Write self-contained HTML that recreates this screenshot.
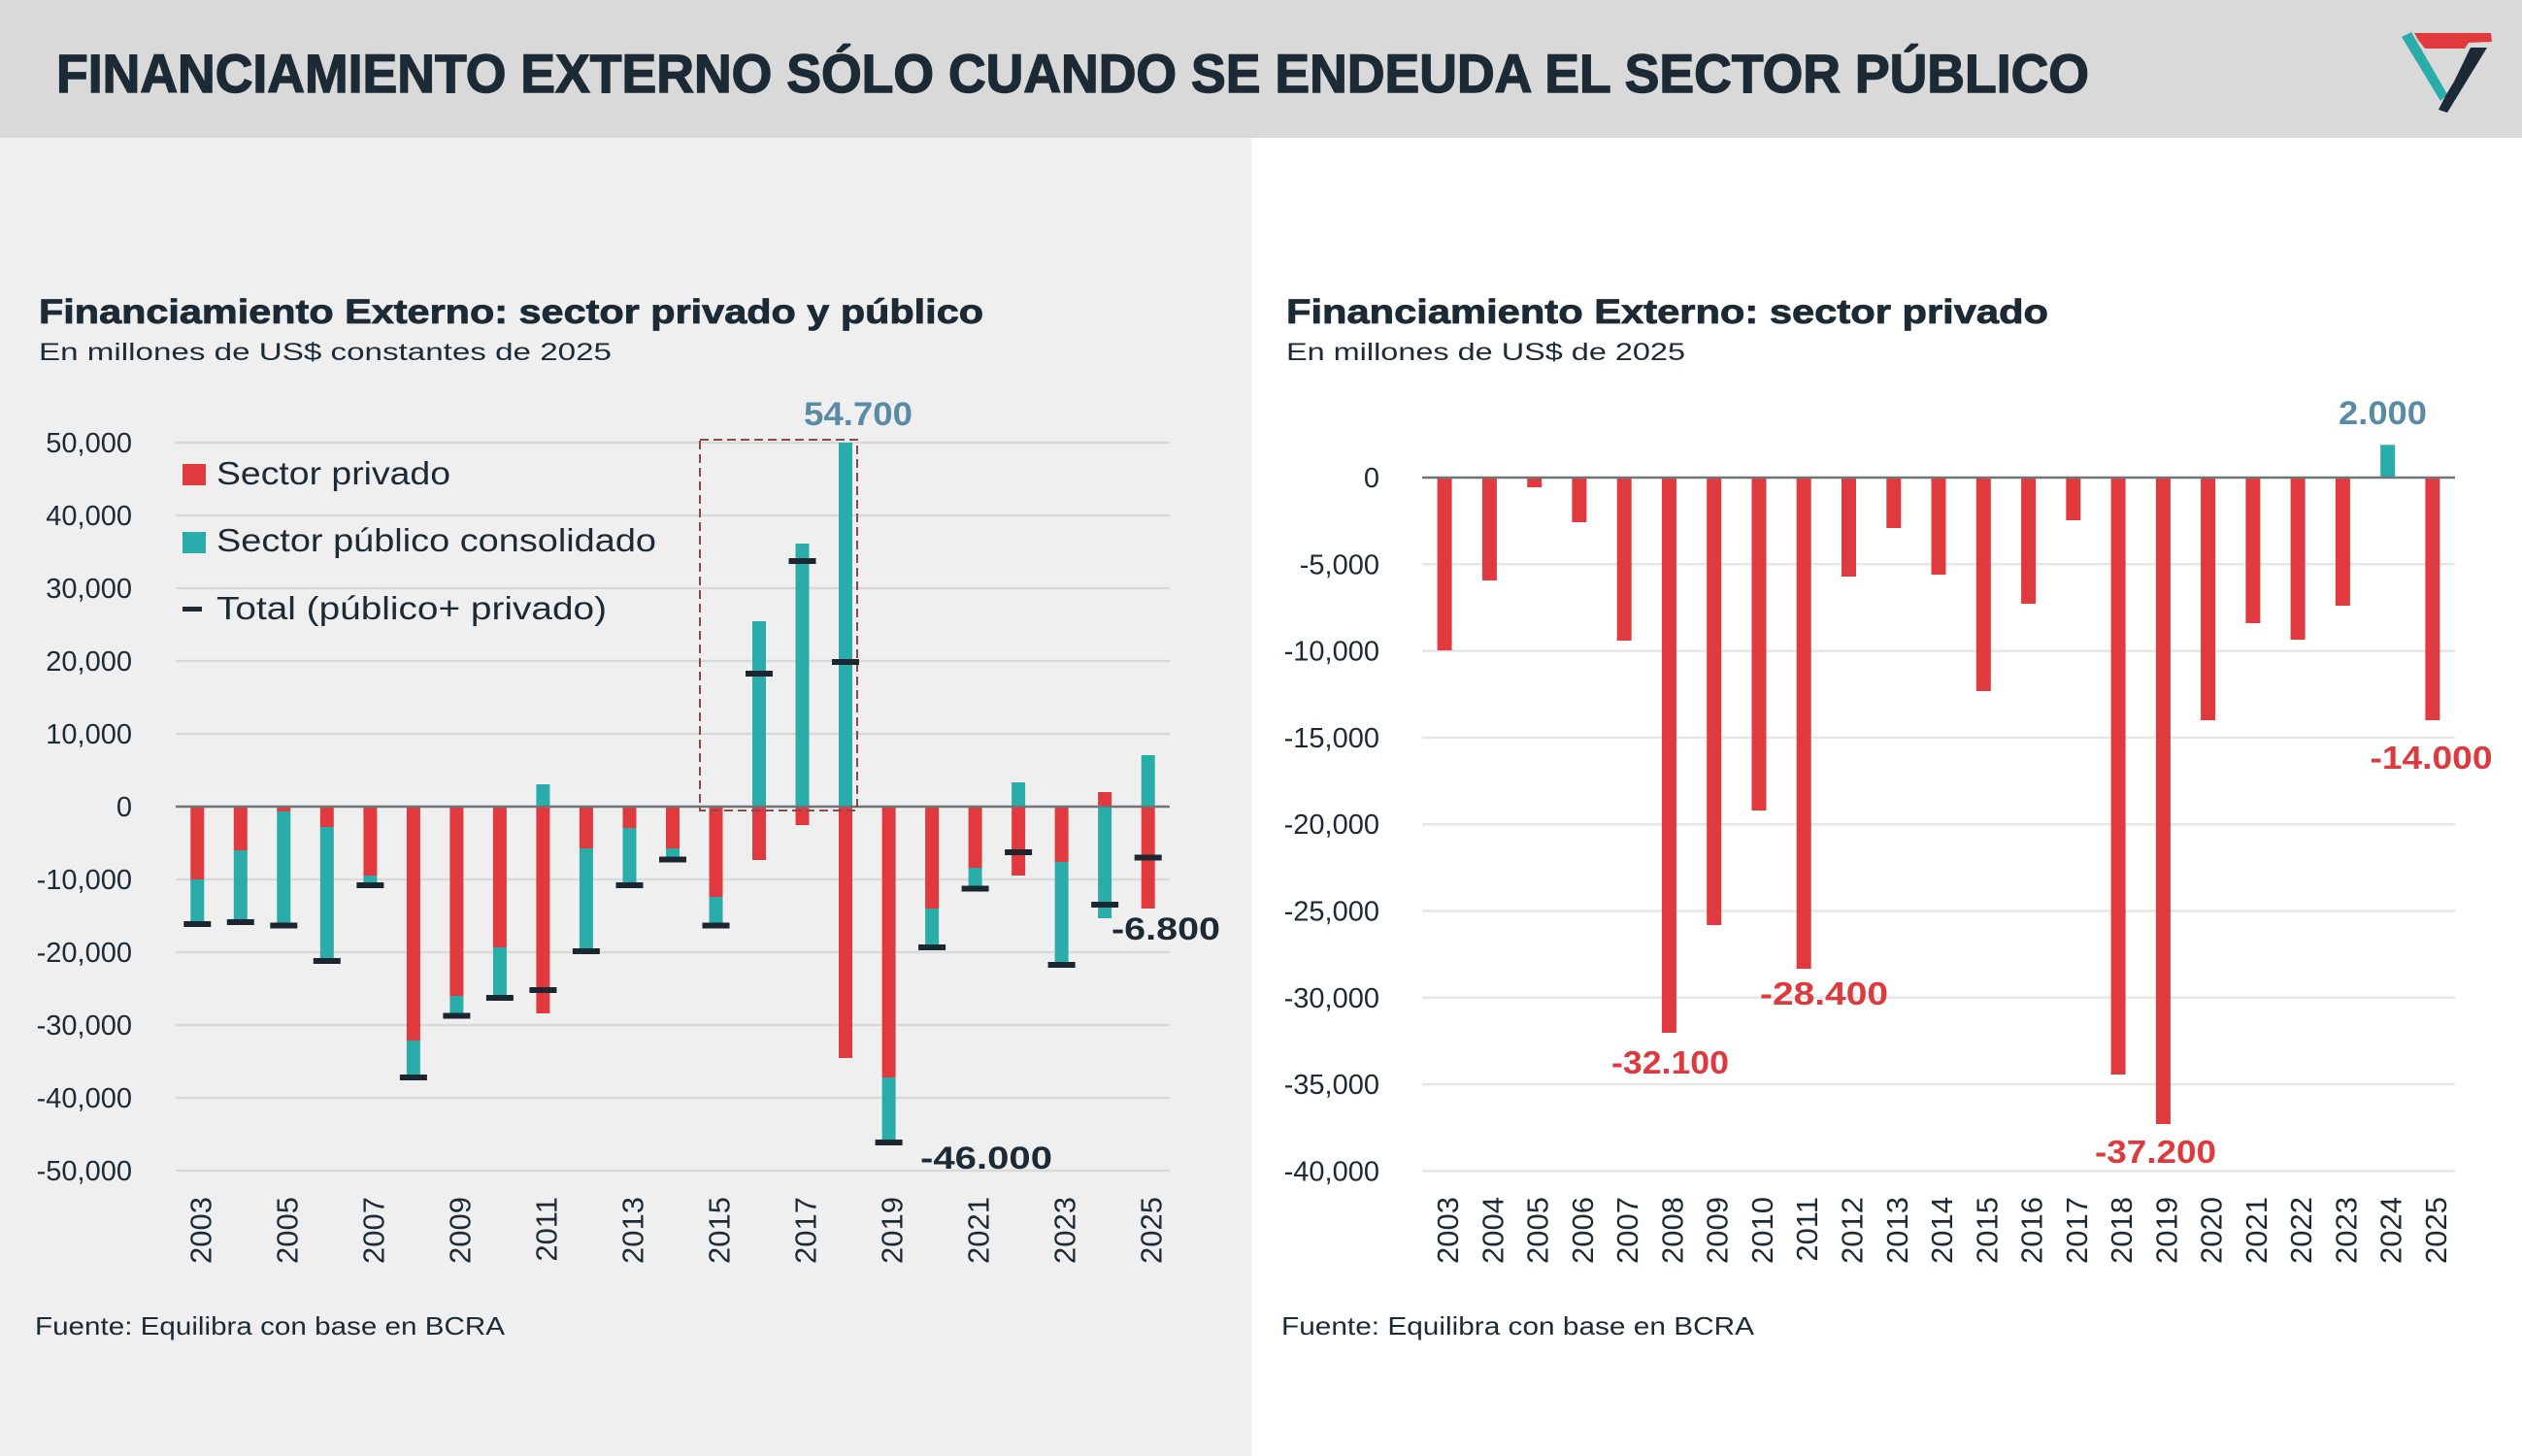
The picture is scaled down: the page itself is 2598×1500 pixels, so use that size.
<!DOCTYPE html>
<html><head><meta charset="utf-8"><style>
html,body{margin:0;padding:0;background:#fff;}
svg{display:block;}
text{font-family:"Liberation Sans",sans-serif;}
</style></head><body>
<svg width="2598" height="1500" viewBox="0 0 2598 1500" xmlns="http://www.w3.org/2000/svg">
<rect x="0" y="0" width="2598" height="1500" fill="#ffffff"/>
<rect x="0" y="142" width="1289" height="1358" fill="#efefef"/>
<rect x="0" y="0" width="2598" height="142" fill="#d9d9d9"/>
<text x="58" y="95" font-size="56" font-weight="bold" fill="#1c2a35" stroke="#1c2a35" stroke-width="1.4" textLength="2094" lengthAdjust="spacingAndGlyphs">FINANCIAMIENTO EXTERNO SÓLO CUANDO SE ENDEUDA EL SECTOR PÚBLICO</text>
<!-- logo -->
<polygon points="2474,38 2484,33 2521,97 2514,104" fill="#2aacaa"/>
<polygon points="2487,34 2566,34 2567,43 2543,44 2539,50 2498,50 2491,41" fill="#e03a3e"/>
<polygon points="2545,49 2562,49 2521,116 2512,113 2519,99 2528,84" fill="#1c2a35"/>

<!-- LEFT CHART -->
<text x="40" y="333" font-size="35" font-weight="bold" fill="#1c2a35" stroke="#1c2a35" stroke-width="0.8" textLength="973" lengthAdjust="spacingAndGlyphs">Financiamiento Externo: sector privado y público</text>
<text x="40" y="371" font-size="25" fill="#1c2a35" textLength="590" lengthAdjust="spacingAndGlyphs">En millones de US$ constantes de 2025</text>
<g stroke="#d9d9d9" stroke-width="2.5">
<line x1="181" y1="456" x2="1205" y2="456"/>
<line x1="181" y1="531" x2="1205" y2="531"/>
<line x1="181" y1="606" x2="1205" y2="606"/>
<line x1="181" y1="681" x2="1205" y2="681"/>
<line x1="181" y1="756" x2="1205" y2="756"/>
<line x1="181" y1="906" x2="1205" y2="906"/>
<line x1="181" y1="981" x2="1205" y2="981"/>
<line x1="181" y1="1056" x2="1205" y2="1056"/>
<line x1="181" y1="1131" x2="1205" y2="1131"/>
<line x1="181" y1="1206" x2="1205" y2="1206"/>
</g>
<g font-size="29" fill="#1c2a35" text-anchor="end">
<text x="136" y="466">50,000</text>
<text x="136" y="541">40,000</text>
<text x="136" y="616">30,000</text>
<text x="136" y="691">20,000</text>
<text x="136" y="766">10,000</text>
<text x="136" y="841">0</text>
<text x="136" y="916">-10,000</text>
<text x="136" y="991">-20,000</text>
<text x="136" y="1066">-30,000</text>
<text x="136" y="1141">-40,000</text>
<text x="136" y="1216">-50,000</text>
</g>
<!-- legend -->
<rect x="188" y="478" width="24" height="22" fill="#e03a3e"/>
<text x="223" y="499" font-size="33" fill="#1c2a35" textLength="241" lengthAdjust="spacingAndGlyphs">Sector privado</text>
<rect x="188" y="548" width="24" height="22" fill="#2aacaa"/>
<text x="223" y="568" font-size="33" fill="#1c2a35" textLength="453" lengthAdjust="spacingAndGlyphs">Sector público consolidado</text>
<rect x="188" y="625" width="20" height="5" fill="#1c2a35"/>
<text x="223" y="638" font-size="33" fill="#1c2a35" textLength="402" lengthAdjust="spacingAndGlyphs">Total (público+ privado)</text>

<!-- bars left -->
<g>
<rect x="196.3" y="831" width="14" height="75" fill="#e03a3e"/><rect x="196.3" y="906" width="14" height="44" fill="#2aacaa"/>
<rect x="240.8" y="831" width="14" height="45" fill="#e03a3e"/><rect x="240.8" y="876" width="14" height="72" fill="#2aacaa"/>
<rect x="285.3" y="831" width="14" height="5" fill="#e03a3e"/><rect x="285.3" y="836" width="14" height="115" fill="#2aacaa"/>
<rect x="329.8" y="831" width="14" height="21" fill="#e03a3e"/><rect x="329.8" y="852" width="14" height="136" fill="#2aacaa"/>
<rect x="374.4" y="831" width="14" height="71" fill="#e03a3e"/><rect x="374.4" y="902" width="14" height="8" fill="#2aacaa"/>
<rect x="418.9" y="831" width="14" height="241" fill="#e03a3e"/><rect x="418.9" y="1072" width="14" height="36" fill="#2aacaa"/>
<rect x="463.4" y="831" width="14" height="195" fill="#e03a3e"/><rect x="463.4" y="1026" width="14" height="19" fill="#2aacaa"/>
<rect x="507.9" y="831" width="14" height="145" fill="#e03a3e"/><rect x="507.9" y="976" width="14" height="51" fill="#2aacaa"/>
<rect x="552.4" y="808" width="14" height="23" fill="#2aacaa"/><rect x="552.4" y="831" width="14" height="213" fill="#e03a3e"/>
<rect x="596.9" y="831" width="14" height="43" fill="#e03a3e"/><rect x="596.9" y="874" width="14" height="104" fill="#2aacaa"/>
<rect x="641.5" y="831" width="14" height="22" fill="#e03a3e"/><rect x="641.5" y="853" width="14" height="57" fill="#2aacaa"/>
<rect x="686" y="831" width="14" height="43" fill="#e03a3e"/><rect x="686" y="874" width="14" height="9" fill="#2aacaa"/>
<rect x="730.5" y="831" width="14" height="93" fill="#e03a3e"/><rect x="730.5" y="924" width="14" height="28" fill="#2aacaa"/>
<rect x="775" y="640" width="14" height="191" fill="#2aacaa"/><rect x="775" y="831" width="14" height="55" fill="#e03a3e"/>
<rect x="819.5" y="560" width="14" height="271" fill="#2aacaa"/><rect x="819.5" y="831" width="14" height="19" fill="#e03a3e"/>
<rect x="864" y="456" width="14" height="375" fill="#2aacaa"/><rect x="864" y="831" width="14" height="259" fill="#e03a3e"/>
<rect x="908.6" y="831" width="14" height="279" fill="#e03a3e"/><rect x="908.6" y="1110" width="14" height="65" fill="#2aacaa"/>
<rect x="953.1" y="831" width="14" height="105" fill="#e03a3e"/><rect x="953.1" y="936" width="14" height="38" fill="#2aacaa"/>
<rect x="997.6" y="831" width="14" height="63" fill="#e03a3e"/><rect x="997.6" y="894" width="14" height="19" fill="#2aacaa"/>
<rect x="1042.1" y="806" width="14" height="25" fill="#2aacaa"/><rect x="1042.1" y="831" width="14" height="71" fill="#e03a3e"/>
<rect x="1086.6" y="831" width="14" height="57" fill="#e03a3e"/><rect x="1086.6" y="888" width="14" height="104" fill="#2aacaa"/>
<rect x="1131.1" y="816" width="14" height="15" fill="#e03a3e"/><rect x="1131.1" y="831" width="14" height="115" fill="#2aacaa"/>
<rect x="1175.7" y="778" width="14" height="53" fill="#2aacaa"/><rect x="1175.7" y="831" width="14" height="105" fill="#e03a3e"/>
</g>
<line x1="181" y1="831" x2="1205" y2="831" stroke="#6e7478" stroke-width="2.5"/>
<!-- dashed box -->
<rect x="721" y="453" width="162" height="382" fill="none" stroke="#8b4a4a" stroke-width="2" stroke-dasharray="9,5"/>
<!-- totals markers -->
<g fill="#1c2630">
<rect x="189.3" y="949" width="28" height="6"/>
<rect x="233.8" y="947" width="28" height="6"/>
<rect x="278.3" y="950.5" width="28" height="6"/>
<rect x="322.8" y="987" width="28" height="6"/>
<rect x="367.4" y="909" width="28" height="6"/>
<rect x="411.9" y="1107" width="28" height="6"/>
<rect x="456.4" y="1043.5" width="28" height="6"/>
<rect x="500.9" y="1025" width="28" height="6"/>
<rect x="545.4" y="1017" width="28" height="6"/>
<rect x="589.9" y="977" width="28" height="6"/>
<rect x="634.5" y="909" width="28" height="6"/>
<rect x="679" y="882.5" width="28" height="6"/>
<rect x="723.5" y="950.5" width="28" height="6"/>
<rect x="768" y="691" width="28" height="6"/>
<rect x="812.5" y="575" width="28" height="6"/>
<rect x="857" y="679" width="28" height="6"/>
<rect x="901.6" y="1174" width="28" height="6"/>
<rect x="946.1" y="973" width="28" height="6"/>
<rect x="990.6" y="912.5" width="28" height="6"/>
<rect x="1035.1" y="875" width="28" height="6"/>
<rect x="1079.6" y="991" width="28" height="6"/>
<rect x="1124.1" y="929" width="28" height="6"/>
<rect x="1168.7" y="880.5" width="28" height="6"/>
</g>
<text x="828" y="438" font-size="34" font-weight="bold" fill="#5a8ba6" textLength="112" lengthAdjust="spacingAndGlyphs">54.700</text>
<text x="948" y="1204" font-size="32" font-weight="bold" fill="#1c2a35" textLength="136" lengthAdjust="spacingAndGlyphs">-46.000</text>
<text x="1145" y="968" font-size="32" font-weight="bold" fill="#1c2a35" textLength="112" lengthAdjust="spacingAndGlyphs">-6.800</text>
<!-- x labels left -->
<g font-size="31" fill="#1c2a35" text-anchor="end">
<text transform="translate(217.3,1233) rotate(-90)">2003</text>
<text transform="translate(306.3,1233) rotate(-90)">2005</text>
<text transform="translate(395.4,1233) rotate(-90)">2007</text>
<text transform="translate(484.4,1233) rotate(-90)">2009</text>
<text transform="translate(573.4,1233) rotate(-90)">2011</text>
<text transform="translate(662.5,1233) rotate(-90)">2013</text>
<text transform="translate(751.5,1233) rotate(-90)">2015</text>
<text transform="translate(840.6,1233) rotate(-90)">2017</text>
<text transform="translate(929.6,1233) rotate(-90)">2019</text>
<text transform="translate(1018.6,1233) rotate(-90)">2021</text>
<text transform="translate(1107.6,1233) rotate(-90)">2023</text>
<text transform="translate(1196.7,1233) rotate(-90)">2025</text>
</g>
<text x="36" y="1375" font-size="26" fill="#1c2a35" textLength="484" lengthAdjust="spacingAndGlyphs">Fuente: Equilibra con base en BCRA</text>

<!-- RIGHT CHART -->
<text x="1325" y="333" font-size="35" font-weight="bold" fill="#1c2a35" stroke="#1c2a35" stroke-width="0.8" textLength="785" lengthAdjust="spacingAndGlyphs">Financiamiento Externo: sector privado</text>
<text x="1325" y="371" font-size="25" fill="#1c2a35" textLength="411" lengthAdjust="spacingAndGlyphs">En millones de US$ de 2025</text>
<g stroke="#e6e6e6" stroke-width="2.5">
<line x1="1465" y1="581.3" x2="2529" y2="581.3"/>
<line x1="1465" y1="670.6" x2="2529" y2="670.6"/>
<line x1="1465" y1="759.9" x2="2529" y2="759.9"/>
<line x1="1465" y1="849.2" x2="2529" y2="849.2"/>
<line x1="1465" y1="938.5" x2="2529" y2="938.5"/>
<line x1="1465" y1="1027.8" x2="2529" y2="1027.8"/>
<line x1="1465" y1="1117.1" x2="2529" y2="1117.1"/>
<line x1="1465" y1="1206.4" x2="2529" y2="1206.4"/>
</g>
<g font-size="29" fill="#1c2a35" text-anchor="end">
<text x="1421" y="502">0</text>
<text x="1421" y="591.3">-5,000</text>
<text x="1421" y="680.6">-10,000</text>
<text x="1421" y="769.9">-15,000</text>
<text x="1421" y="859.2">-20,000</text>
<text x="1421" y="948.5">-25,000</text>
<text x="1421" y="1037.8">-30,000</text>
<text x="1421" y="1127.1">-35,000</text>
<text x="1421" y="1216.4">-40,000</text>
</g>
<g fill="#e03a3e">
<rect x="1480.6" y="492" width="15" height="178"/>
<rect x="1526.9" y="492" width="15" height="106"/>
<rect x="1573.2" y="492" width="15" height="10"/>
<rect x="1619.4" y="492" width="15" height="46"/>
<rect x="1665.7" y="492" width="15" height="168"/>
<rect x="1711.9" y="492" width="15" height="572"/>
<rect x="1758.2" y="492" width="15" height="461"/>
<rect x="1804.5" y="492" width="15" height="343"/>
<rect x="1850.7" y="492" width="15" height="506"/>
<rect x="1897" y="492" width="15" height="102"/>
<rect x="1943.3" y="492" width="15" height="52"/>
<rect x="1989.5" y="492" width="15" height="100"/>
<rect x="2035.8" y="492" width="15" height="220"/>
<rect x="2082.1" y="492" width="15" height="130"/>
<rect x="2128.3" y="492" width="15" height="44"/>
<rect x="2174.6" y="492" width="15" height="615"/>
<rect x="2220.9" y="492" width="15" height="666"/>
<rect x="2267.1" y="492" width="15" height="250"/>
<rect x="2313.4" y="492" width="15" height="150"/>
<rect x="2359.6" y="492" width="15" height="167"/>
<rect x="2405.9" y="492" width="15" height="132"/>
<rect x="2498.4" y="492" width="15" height="250"/>
</g>
<rect x="2452.2" y="458.3" width="15" height="33.7" fill="#2aacaa"/>
<line x1="1465" y1="492" x2="2529" y2="492" stroke="#6e7478" stroke-width="2.5"/>
<text x="2409" y="437" font-size="34" font-weight="bold" fill="#5a8ba6" textLength="91" lengthAdjust="spacingAndGlyphs">2.000</text>
<g font-size="33" font-weight="bold" fill="#dc3a3d">
<text x="2441.5" y="792" textLength="126" lengthAdjust="spacingAndGlyphs">-14.000</text>
<text x="1660" y="1106" textLength="121" lengthAdjust="spacingAndGlyphs">-32.100</text>
<text x="1813" y="1035" textLength="132" lengthAdjust="spacingAndGlyphs">-28.400</text>
<text x="2158" y="1198" textLength="125" lengthAdjust="spacingAndGlyphs">-37.200</text>
</g>
<g font-size="31" fill="#1c2a35" text-anchor="end">
<text transform="translate(1502.1,1233) rotate(-90)">2003</text>
<text transform="translate(1548.4,1233) rotate(-90)">2004</text>
<text transform="translate(1594.7,1233) rotate(-90)">2005</text>
<text transform="translate(1640.9,1233) rotate(-90)">2006</text>
<text transform="translate(1687.2,1233) rotate(-90)">2007</text>
<text transform="translate(1733.4,1233) rotate(-90)">2008</text>
<text transform="translate(1779.7,1233) rotate(-90)">2009</text>
<text transform="translate(1826,1233) rotate(-90)">2010</text>
<text transform="translate(1872.2,1233) rotate(-90)">2011</text>
<text transform="translate(1918.5,1233) rotate(-90)">2012</text>
<text transform="translate(1964.8,1233) rotate(-90)">2013</text>
<text transform="translate(2011,1233) rotate(-90)">2014</text>
<text transform="translate(2057.3,1233) rotate(-90)">2015</text>
<text transform="translate(2103.6,1233) rotate(-90)">2016</text>
<text transform="translate(2149.8,1233) rotate(-90)">2017</text>
<text transform="translate(2196.1,1233) rotate(-90)">2018</text>
<text transform="translate(2242.4,1233) rotate(-90)">2019</text>
<text transform="translate(2288.6,1233) rotate(-90)">2020</text>
<text transform="translate(2334.9,1233) rotate(-90)">2021</text>
<text transform="translate(2381.1,1233) rotate(-90)">2022</text>
<text transform="translate(2427.4,1233) rotate(-90)">2023</text>
<text transform="translate(2473.7,1233) rotate(-90)">2024</text>
<text transform="translate(2519.9,1233) rotate(-90)">2025</text>
</g>
<text x="1320" y="1375" font-size="26" fill="#1c2a35" textLength="487" lengthAdjust="spacingAndGlyphs">Fuente: Equilibra con base en BCRA</text>
</svg>
</body></html>
